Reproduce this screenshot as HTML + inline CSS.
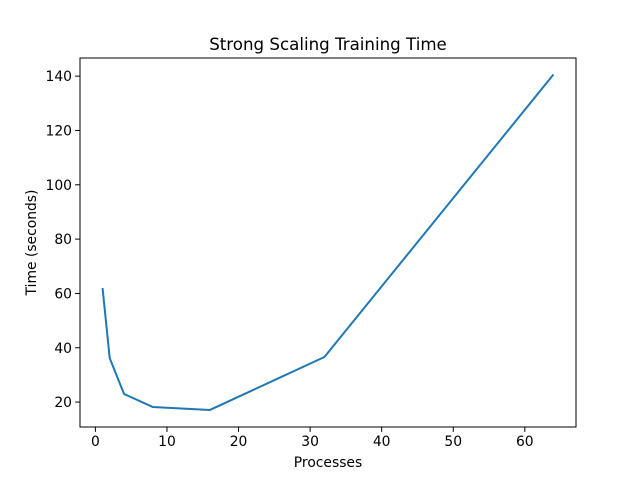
<!DOCTYPE html>
<html><head><meta charset="utf-8"><style>
body{margin:0;background:#fff}
svg{font-family:"DejaVu Sans","Liberation Sans",sans-serif}
</style></head><body>
<svg id="chart" width="640" height="480" xmlns="http://www.w3.org/2000/svg">
<rect width="640" height="480" fill="#fff"/>
<text x="328" y="50" font-size="16.67" text-anchor="middle">Strong Scaling Training Time</text>
<text x="328" y="467" font-size="13.89" text-anchor="middle">Processes</text>
<text x="0" y="0" font-size="13.89" text-anchor="middle" transform="translate(36,242.5) rotate(-90)">Time (seconds)</text>
<g id="ticks"></g>
<polyline id="line" fill="none" stroke="#1f77b4" stroke-width="2" stroke-linejoin="round"/>
<rect x="80" y="58" width="496" height="369" fill="none" stroke="#000" stroke-width="1"/>
</svg>
<script>
const processes=[1,2,4,8,16,32,64];
const times=[62,36.2,23,18.2,17.1,36.6,140.6];
const xTicks=[0,10,20,30,40,50,60];
const yTicks=[20,40,60,80,100,120,140];
const L=80,R=576,T=58,B=427;
const xmin=-2.15,xmax=67.15,ymin=10.825,ymax=146.675;
function sx(v){return L+(v-xmin)/(xmax-xmin)*(R-L);}
function sy(v){return B-(v-ymin)/(ymax-ymin)*(B-T);}
const NS="http://www.w3.org/2000/svg";
const g=document.getElementById('ticks');
function mk(tag,attrs,txt){const e=document.createElementNS(NS,tag);for(const k in attrs)e.setAttribute(k,attrs[k]);if(txt!==undefined)e.textContent=txt;g.appendChild(e);return e;}
xTicks.forEach(t=>{const x=sx(t);
const l=mk('line',{x1:x,x2:x,y1:B,y2:B+4.9,stroke:'#000','stroke-width':1});


const tx=mk('text',{x:x,y:B+19,'font-size':13.89,'text-anchor':'middle'},t);


});
yTicks.forEach(t=>{const y=sy(t);
const l=mk('line',{x1:L-4.9,x2:L,y1:y,y2:y,stroke:'#000','stroke-width':1});


const tx=mk('text',{x:L-8,y:y+5,'font-size':13.89,'text-anchor':'end'},t);


});
document.getElementById('line').setAttribute('points',processes.map((p,i)=>sx(p)+','+sy(times[i])).join(' '));
</script>
</body></html>
